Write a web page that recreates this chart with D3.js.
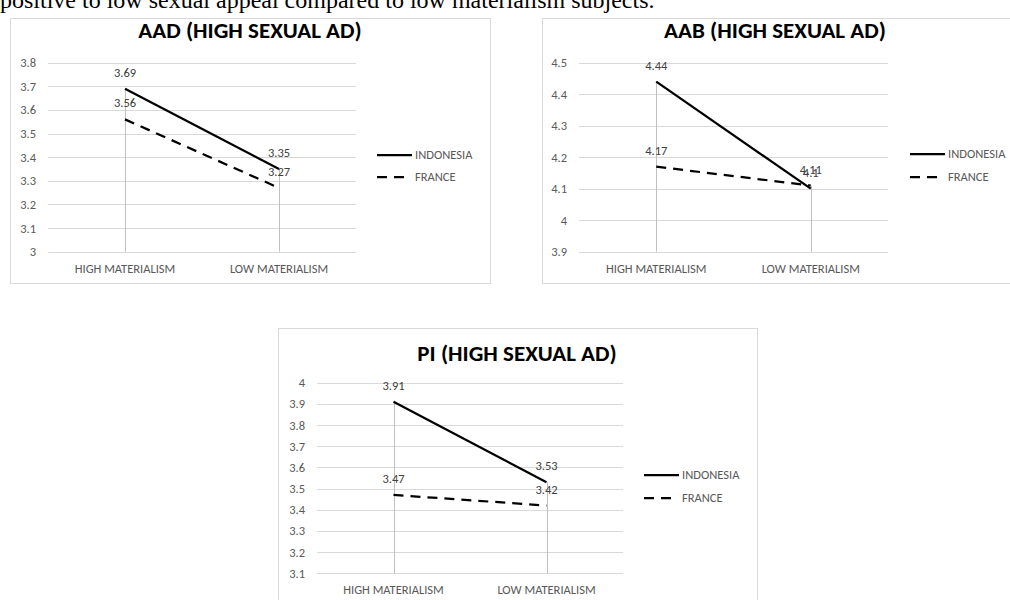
<!DOCTYPE html>
<html>
<head>
<meta charset="utf-8">
<script src="https://cdn.jsdelivr.net/npm/d3@7"></script>
<style>
  html, body { margin: 0; padding: 0; background: #fff; }
  svg { display: block; }
</style>
</head>
<body>
<svg id="c" width="1010" height="600"></svg>
<script>
// ---------- data ----------
const categories = ["HIGH MATERIALISM", "LOW MATERIALISM"];
const seriesNames = ["INDONESIA", "FRANCE"];

const aadIndonesia = [3.69, 3.35];
const aadFrance = [3.56, 3.27];
const aadTicks = [3, 3.1, 3.2, 3.3, 3.4, 3.5, 3.6, 3.7, 3.8];

const aabIndonesia = [4.44, 4.1];
const aabFrance = [4.17, 4.11];
const aabTicks = [3.9, 4, 4.1, 4.2, 4.3, 4.4, 4.5];

const piIndonesia = [3.91, 3.53];
const piFrance = [3.47, 3.42];
const piTicks = [3.1, 3.2, 3.3, 3.4, 3.5, 3.6, 3.7, 3.8, 3.9, 4];

const headerText = "positive to low sexual appeal compared to low materialism subjects.";

// ---------- drawing ----------
const svg = d3.select("#c");
const FONT = "Carlito, Lato, 'Open Sans', sans-serif";
const FS = 12.5;

svg.append("text")
  .attr("x", 0).attr("y", 8)
  .attr("font-family", "'Liberation Serif', 'Times New Roman', serif")
  .attr("font-size", 24)
  .attr("fill", "#000")
  .text(headerText);

function drawChart(o) {
  const g = svg.append("g");
  // frame
  g.append("rect")
    .attr("x", o.frame[0] + 0.5).attr("y", o.frame[1] + 0.5)
    .attr("width", o.frame[2] - o.frame[0]).attr("height", o.frame[3] - o.frame[1])
    .attr("fill", "#fff").attr("stroke", "#d9d9d9").attr("stroke-width", 1);

  // title
  g.append("text")
    .attr("x", o.titleX).attr("y", o.titleY)
    .attr("text-anchor", "middle")
    .attr("font-family", FONT).attr("font-weight", "bold")
    .attr("font-size", 23).attr("fill", "#000")
    .text(o.title);

  const x = d3.scaleBand().domain(categories).range([o.plot[0], o.plot[1]]);
  const y = d3.scaleLinear().domain([o.ticks[0], o.ticks[o.ticks.length - 1]]).range([o.plot[3], o.plot[2]]);

  // gridlines
  g.append("g").selectAll("line").data(o.ticks).join("line")
    .attr("x1", o.plot[0]).attr("x2", o.plot[1])
    .attr("y1", d => Math.round(y(d)) + 0.5).attr("y2", d => Math.round(y(d)) + 0.5)
    .attr("stroke", "#d9d9d9").attr("stroke-width", 1);

  // y axis labels
  const yAxis = d3.axisLeft(y).tickValues(o.ticks).tickSize(0).tickPadding(0)
    .tickFormat(d => d3.format("")(+d.toFixed(1)));
  const ya = g.append("g").attr("transform", `translate(${o.tickRight},0)`).call(yAxis);
  ya.select(".domain").remove();
  ya.selectAll("text").attr("font-family", FONT).attr("font-size", FS).attr("fill", "#595959");

  // x axis labels
  const xAxis = d3.axisBottom(x).tickSize(0).tickPadding(0);
  const xa = g.append("g").attr("transform", `translate(0,${o.plot[3] + 12})`).call(xAxis);
  xa.select(".domain").remove();
  xa.selectAll("text").attr("font-family", FONT).attr("font-size", FS).attr("fill", "#595959");

  const cx = c => x(c) + x.bandwidth() / 2;

  // drop lines
  g.append("g").selectAll("line").data(categories).join("line")
    .attr("x1", c => Math.round(cx(c)) + 0.5).attr("x2", c => Math.round(cx(c)) + 0.5)
    .attr("y1", (c, i) => y(Math.max(o.series[0][i], o.series[1][i])))
    .attr("y2", y(o.ticks[0]))
    .attr("stroke", "#c0c0c0").attr("stroke-width", 1);

  const line = d3.line().x((d, i) => cx(categories[i])).y(d => y(d));
  const dashes = [null, "10,7"];
  o.series.forEach((s, k) => {
    g.append("path").datum(s)
      .attr("d", line)
      .attr("fill", "none").attr("stroke", "#000").attr("stroke-width", 2.25)
      .attr("stroke-dasharray", dashes[k]);
  });

  // data labels
  o.series.forEach((s, k) => {
    g.append("g").selectAll("text").data(s).join("text")
      .attr("x", (d, i) => cx(categories[i]))
      .attr("y", d => y(d) - 12)
      .attr("text-anchor", "middle")
      .attr("font-family", FONT).attr("font-size", FS).attr("fill", "#404040")
      .text(d => d3.format("")(d));
  });

  // legend
  seriesNames.forEach((n, k) => {
    const ly = o.legendY[k];
    g.append("line")
      .attr("x1", o.legendX).attr("x2", o.legendX + (k === 0 ? 35 : 27))
      .attr("y1", ly).attr("y2", ly)
      .attr("stroke", "#000").attr("stroke-width", 2.25)
      .attr("stroke-dasharray", dashes[k]);
    g.append("text")
      .attr("x", o.legendX + 38).attr("y", ly).attr("dy", "0.35em")
      .attr("font-family", FONT).attr("font-size", FS).attr("fill", "#595959")
      .text(n);
  });
}

drawChart({
  title: "AAD (HIGH SEXUAL AD)",
  frame: [10, 18, 490, 283],
  titleX: 250, titleY: 38,
  plot: [48, 356, 62.7, 251.7],
  tickRight: 36,
  ticks: aadTicks,
  series: [aadIndonesia, aadFrance],
  legendX: 377, legendY: [155, 177]
});

drawChart({
  title: "AAB (HIGH SEXUAL AD)",
  frame: [542, 18, 1014, 283],
  titleX: 775, titleY: 38,
  plot: [579, 888, 62.7, 251.7],
  tickRight: 567,
  ticks: aabTicks,
  series: [aabIndonesia, aabFrance],
  legendX: 910, legendY: [154, 177]
});

drawChart({
  title: "PI (HIGH SEXUAL AD)",
  frame: [278, 328, 757, 610],
  titleX: 517, titleY: 361,
  plot: [317, 623, 382.7, 573.3],
  tickRight: 305,
  ticks: piTicks,
  series: [piIndonesia, piFrance],
  legendX: 644, legendY: [475, 498]
});
</script>
</body>
</html>
